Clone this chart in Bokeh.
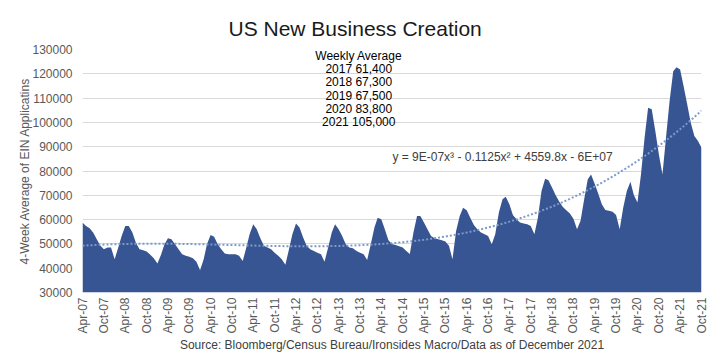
import numpy as np
import pandas as pd
from bokeh.plotting import figure
from bokeh.models import (FixedTicker, DatetimeTickFormatter, NumeralTickFormatter,
                          Label, Title, Range1d, ColumnDataSource)
from bokeh.embed import file_html
from bokeh.resources import INLINE

# ---- data ----
first_month = "2007-04-01"
ein_applications = [
    58800, 57400, 56400, 54700, 51900, 49200, 47800, 48500, 48500, 43700,
    48500, 53300, 57400, 57400, 54700, 50500, 47800, 47400, 46900, 45500,
    44100, 41900, 45500, 49600, 52300, 51900, 49900, 47800, 45700, 45100,
    44700, 44100, 42700, 39200, 43700, 49900, 53700, 52900, 49900, 47800,
    46000, 45700, 45700, 45700, 45100, 43000, 48500, 54000, 58100, 56000,
    52300, 49200, 48500, 47800, 46400, 45100, 43700, 41400, 47800, 54000,
    58400, 56700, 52600, 49200, 47800, 47100, 46400, 45700, 42700, 48500,
    54700, 58100, 56000, 53300, 49900, 48500, 48200, 47100, 46400, 45700,
    43400, 49900, 56700, 60800, 60100, 56000, 51500, 50000, 49500, 49000,
    48500, 47100, 45800, 54700, 61500, 61500, 58800, 56000, 53300, 52300,
    51900, 51500, 51000, 49200, 43700, 55300, 61500, 64900, 63800, 60800,
    57800, 56000, 54700, 54000, 53300, 49900, 54000, 62900, 68400, 69400,
    66300, 61900, 60100, 58800, 58400, 58100, 57400, 54000, 60800, 71800,
    76800, 76200, 73200, 70100, 67400, 65300, 63800, 62500, 60400, 56000,
    59500, 68400, 76600, 78600, 74800, 70700, 66300, 64000, 63600, 63200,
    61900, 56000, 64900, 71800, 75600, 70100, 67000, 78600, 93700, 106000,
    105400, 96400, 86900, 78600, 93700, 108800, 121100, 122700, 121800, 114900,
    107400, 99900, 94400, 92300, 89600,
]
tick_first, tick_last = "2007-04-01", "2021-10-01"
avg_years = [2017, 2018, 2019, 2020, 2021]
avg_weekly = [61400, 67300, 67500, 83800, 105000]
equation = "y = 9E-07x\u00b3 - 0.1125x\u00b2 + 4559.8x - 6E+07"
title_text = "US New Business Creation"
source_text = "Source: Bloomberg/Census Bureau/Ironsides Macro/Data as of December 2021"
y_ticks = list(range(30000, 130001, 10000))

dates = pd.date_range(first_month, periods=len(ein_applications), freq="MS")
vals = np.array(ein_applications, dtype=float)

# cubic trend line fitted to the series (as the spreadsheet trendline does)
days = np.array((dates - dates[0]).days, dtype=float)
coef = np.polyfit(days, vals, 3)
trend = np.polyval(coef, days)

src = ColumnDataSource(dict(x=dates, y=vals, base=np.full(len(vals), 30000.0), trend=trend))

FONT = "Liberation Sans"
GREY = "#595959"

p = figure(x_axis_type="datetime", frame_width=619, frame_height=243,
           output_backend="svg", toolbar_location=None,
           x_range=Range1d(dates[0], dates[-1]), y_range=Range1d(30000, 130000),
           min_border_left=82, min_border_right=12, min_border_top=49, min_border_bottom=71)
p.background_fill_color = "white"
p.border_fill_color = "white"
p.outline_line_color = None

p.title = Title(text=title_text, align="left", offset=146, standoff=15,
                vertical_align="top",
                text_font=FONT, text_font_size="21px", text_font_style="normal",
                text_color="#1A1A1A")

p.varea(x="x", y1="base", y2="y", source=src, fill_color="#375592")
p.line(x="x", y="trend", source=src, line_color="#7C9BCB", line_width=2, line_dash="2 2")

# axes
p.xgrid.grid_line_color = None
p.ygrid.grid_line_color = "#D9D9D9"
p.ygrid.ticker = FixedTicker(ticks=y_ticks)

ticks = [int(pd.Timestamp(d).value // 10**6) for d in pd.date_range(tick_first, tick_last, freq="6MS")]
xax = p.below[0]
yax = p.left[0]
xax.ticker = FixedTicker(ticks=ticks)
xax.formatter = DatetimeTickFormatter(years="%b-%y", months="%b-%y", days="%b-%y")
xax.major_label_orientation = np.pi / 2
yax.ticker = FixedTicker(ticks=y_ticks)
yax.formatter = NumeralTickFormatter(format="0")
yax.axis_label = "4-Week Average of EIN Applicatins"
xax.axis_label = source_text
for ax in (xax, yax):
    ax.axis_line_color = None
    ax.major_tick_line_color = None
    ax.minor_tick_line_color = None
    ax.major_tick_out = 0
    ax.major_tick_in = 0
    ax.minor_tick_out = 0
    ax.minor_tick_in = 0
    ax.major_label_text_font = FONT
    ax.major_label_text_font_size = "12px"
    ax.major_label_text_color = GREY
    ax.axis_label_text_font = FONT
    ax.axis_label_text_font_size = "12px"
    ax.axis_label_text_font_style = "normal"
xax.major_label_standoff = 5
yax.major_label_standoff = 10
yax.axis_label_text_color = GREY
yax.axis_label_standoff = -3
xax.axis_label_text_color = "#404040"
xax.axis_label_standoff = 1

# annotation block
lines = ["Weekly Average"] + [f"{y} {v:,}" for y, v in zip(avg_years, avg_weekly)]
ann_x = pd.Timestamp("2013-09-20")
for i, t in enumerate(lines):
    p.add_layout(Label(x=ann_x, y=127400 - i * 5450, text=t, text_align="center",
                       text_baseline="middle", text_font=FONT, text_font_size="12px",
                       text_color="#000000"))
p.add_layout(Label(x=pd.Timestamp("2014-07-05"), y=85600, text=equation, text_align="left",
                   text_baseline="middle", text_font=FONT, text_font_size="12px",
                   text_color="#404040"))

open("out.html", "w").write(file_html(p, INLINE))
